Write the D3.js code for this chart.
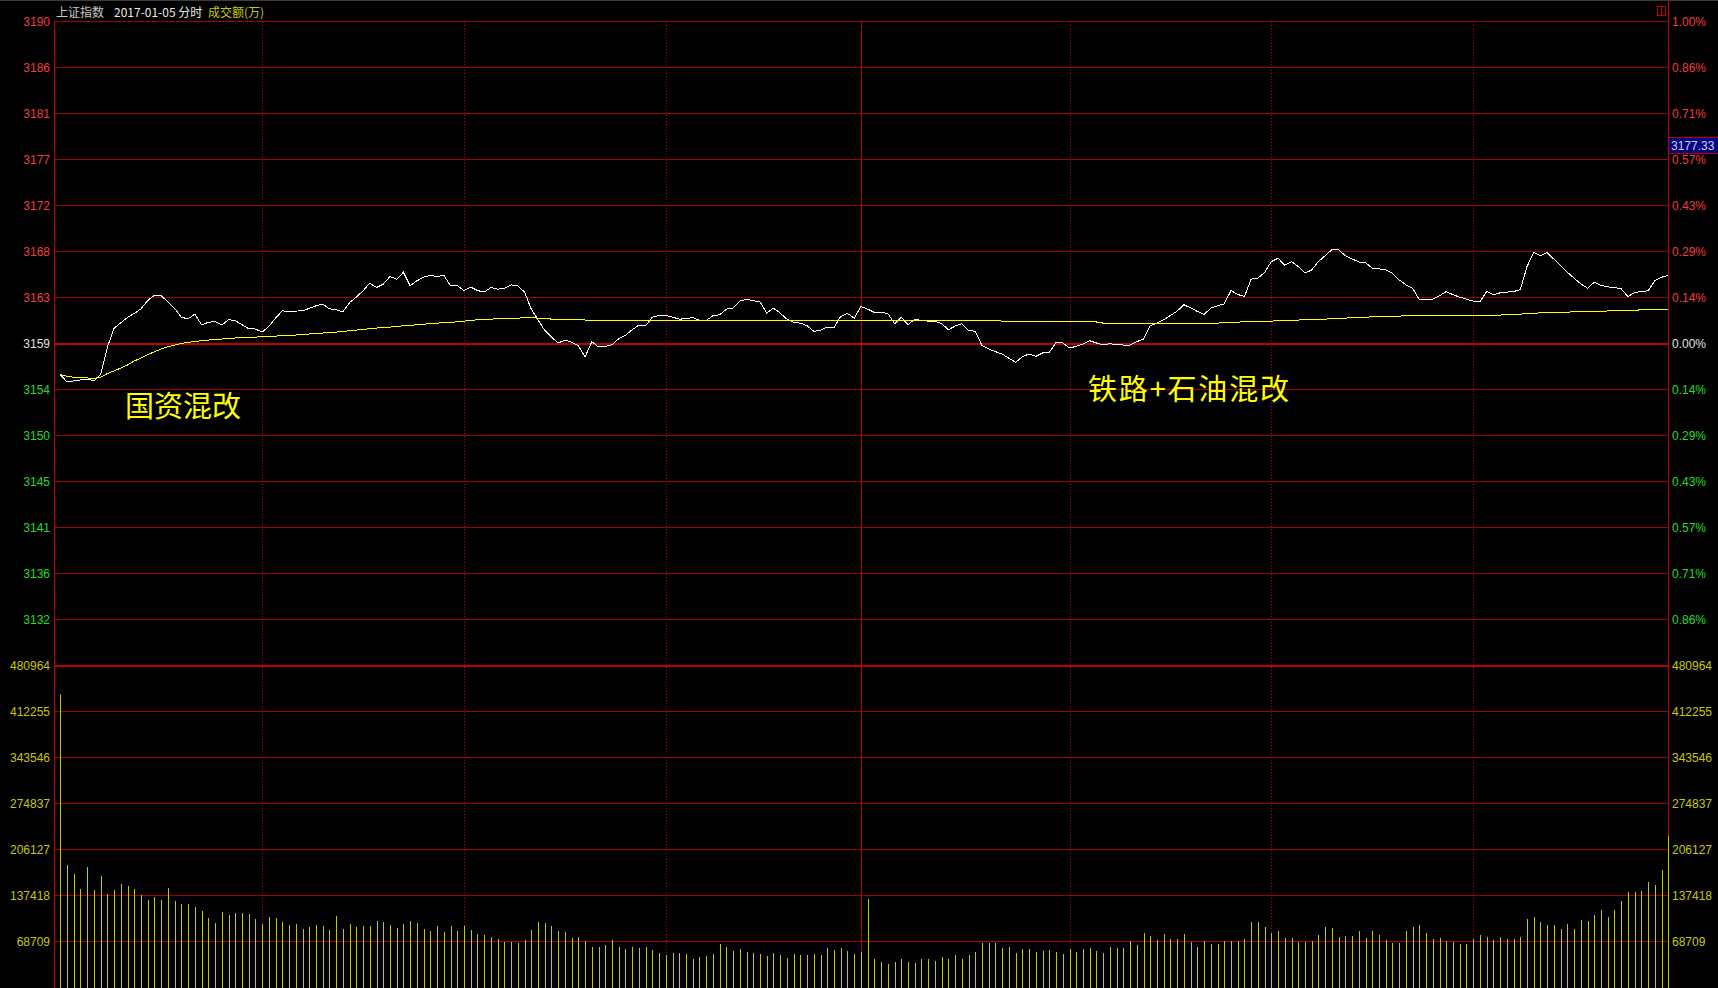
<!DOCTYPE html>
<html>

<head>
    <meta charset="utf-8" />
    <title>上证指数 2017-01-05 分时</title>
    <style>
        html,
        body {
            margin: 0;
            padding: 0;
            background: #000;
            overflow: hidden;
        }

        #chart {
            width: 1718px;
            height: 988px;
        }

        text {
            font-family: "Liberation Sans", Arial, sans-serif;
            font-size: 12px;
        }

        text.cn {
            font-family: "Noto Sans CJK SC", sans-serif;
        }

        .grid line {
            stroke: #a00000;
            stroke-width: 1px;
        }

        .vgrid line {
            stroke: #c00000;
            stroke-width: 1px;
            stroke-dasharray: 1, 2;
        }

        path.series {
            shape-rendering: crispEdges;
        }
    </style>
</head>

<body>
    <div id="chart"></div>

    <script src="https://d3js.org/d3.v7.min.js"></script>
    <script>
        var prevClose = 3158.79
        var markPrice = 3177.33
        var volMax = 480964

        var priceLabels = ["3190", "3186", "3181", "3177", "3172", "3168", "3163", "3159", "3154", "3150", "3145", "3141", "3136", "3132"]
        var pctLabels = ["1.00%", "0.86%", "0.71%", "0.57%", "0.43%", "0.29%", "0.14%", "0.00%", "0.14%", "0.29%", "0.43%", "0.57%", "0.71%", "0.86%"]
        var volLabels = ["480964", "412255", "343546", "274837", "206127", "137418", "68709"]

        // minute index of the half-hour lines and of the midday line
        var halfHours = [30, 60, 90, 150, 180, 210]
        var middayIndex = 119

        var price = [
            3155.72, 3155.00, 3155.10, 3155.20, 3155.29, 3155.10, 3155.72, 3158.42, 3160.28, 3160.81,
            3161.33, 3161.72, 3162.18, 3162.99, 3163.51, 3163.45, 3162.86, 3162.21, 3161.33, 3161.20,
            3161.65, 3160.61, 3160.84, 3160.94, 3160.58, 3161.10, 3161.03, 3160.61, 3160.22, 3160.19,
            3159.89, 3160.45, 3161.26, 3161.98, 3161.88, 3161.95, 3161.98, 3162.21, 3162.47, 3162.63,
            3162.18, 3162.08, 3161.88, 3162.79, 3163.32, 3163.94, 3164.69, 3164.26, 3164.59, 3165.34,
            3165.08, 3165.76, 3164.43, 3164.92, 3165.27, 3165.47, 3165.34, 3165.47, 3164.43, 3164.46,
            3163.97, 3164.30, 3163.97, 3163.81, 3164.26, 3164.10, 3164.16, 3164.52, 3164.43, 3163.81,
            3162.14, 3161.10, 3160.06, 3159.40, 3158.82, 3159.11, 3158.91, 3158.56, 3157.45, 3158.95,
            3158.43, 3158.49, 3158.65, 3159.24, 3159.57, 3160.12, 3160.58, 3160.51, 3161.36, 3161.52,
            3161.52, 3161.36, 3161.16, 3161.20, 3161.33, 3161.03, 3161.03, 3161.49, 3161.59, 3162.14,
            3162.24, 3162.93, 3163.12, 3162.96, 3162.86, 3161.75, 3162.24, 3161.75, 3161.16, 3160.84,
            3160.77, 3160.51, 3159.96, 3160.09, 3160.38, 3160.35, 3161.43, 3161.72, 3161.26, 3162.40,
            3162.14, 3161.82, 3161.82, 3161.72, 3160.71, 3161.33, 3160.61, 3161.16, 3161.03, 3160.97,
            3160.97, 3160.71, 3160.12, 3160.48, 3160.71, 3160.06, 3159.96, 3158.56, 3158.23, 3157.97,
            3157.74, 3157.32, 3156.92, 3157.48, 3157.74, 3157.51, 3157.84, 3157.90, 3158.88, 3158.82,
            3158.33, 3158.49, 3158.72, 3159.04, 3158.82, 3158.65, 3158.75, 3158.65, 3158.62, 3158.62,
            3158.95, 3159.21, 3160.51, 3160.77, 3161.10, 3161.52, 3161.95, 3162.57, 3162.27, 3161.92,
            3161.62, 3162.24, 3162.47, 3162.66, 3163.97, 3163.58, 3163.38, 3165.08, 3165.18, 3165.73,
            3166.81, 3167.13, 3166.45, 3166.81, 3166.32, 3165.67, 3165.99, 3166.81, 3167.39, 3167.98,
            3167.95, 3167.39, 3167.07, 3166.77, 3166.71, 3166.16, 3166.09, 3165.99, 3165.67, 3165.01,
            3164.52, 3164.20, 3163.06, 3163.06, 3163.12, 3163.45, 3163.87, 3163.55, 3163.32, 3163.12,
            3162.93, 3162.89, 3163.87, 3163.55, 3163.74, 3163.81, 3163.87, 3164.04, 3166.32, 3167.69,
            3167.39, 3167.69, 3167.04, 3166.42, 3165.76, 3165.18, 3164.62, 3164.20, 3164.79, 3164.46,
            3164.33, 3164.26, 3164.13, 3163.38, 3163.77, 3163.87, 3163.94, 3164.92, 3165.27, 3165.44
        ]

        var avgPrice = [
            3155.72, 3155.55, 3155.46, 3155.42, 3155.39, 3155.36, 3155.46, 3155.82, 3156.08, 3156.37,
            3156.66, 3157.06, 3157.35, 3157.68, 3157.97, 3158.23, 3158.46, 3158.62, 3158.78, 3158.88,
            3158.98, 3159.04, 3159.11, 3159.17, 3159.21, 3159.27, 3159.31, 3159.34, 3159.37, 3159.40,
            3159.44, 3159.47, 3159.50, 3159.53, 3159.57, 3159.60, 3159.66, 3159.70, 3159.76, 3159.80,
            3159.86, 3159.89, 3159.96, 3160.02, 3160.09, 3160.15, 3160.22, 3160.28, 3160.35, 3160.38,
            3160.45, 3160.51, 3160.54, 3160.61, 3160.67, 3160.71, 3160.77, 3160.81, 3160.84, 3160.90,
            3160.97, 3161.03, 3161.10, 3161.13, 3161.16, 3161.20, 3161.23, 3161.26, 3161.26, 3161.30,
            3161.30, 3161.26, 3161.26, 3161.16, 3161.16, 3161.16, 3161.16, 3161.16, 3161.07, 3161.07,
            3161.07, 3161.07, 3161.07, 3161.00, 3161.00, 3161.00, 3161.00, 3161.00, 3161.00, 3161.00,
            3161.00, 3161.00, 3161.00, 3161.00, 3161.00, 3161.00, 3161.00, 3161.00, 3161.00, 3161.00,
            3161.03, 3161.03, 3161.03, 3161.03, 3161.03, 3161.03, 3161.03, 3161.03, 3161.03, 3161.03,
            3161.03, 3161.03, 3161.03, 3161.03, 3161.03, 3161.03, 3161.03, 3161.03, 3161.03, 3161.03,
            3161.03, 3161.03, 3161.03, 3161.03, 3161.03, 3161.03, 3161.03, 3161.03, 3161.03, 3161.03,
            3161.03, 3161.03, 3161.03, 3161.03, 3161.03, 3161.03, 3161.03, 3161.03, 3161.03, 3161.03,
            3160.97, 3160.97, 3160.97, 3160.97, 3160.97, 3160.88, 3160.88, 3160.88, 3160.88, 3160.88,
            3160.88, 3160.88, 3160.88, 3160.88, 3160.88, 3160.77, 3160.77, 3160.77, 3160.77, 3160.77,
            3160.77, 3160.77, 3160.77, 3160.77, 3160.77, 3160.77, 3160.77, 3160.77, 3160.77, 3160.77,
            3160.77, 3160.77, 3160.77, 3160.81, 3160.87, 3160.87, 3160.90, 3160.90, 3160.94, 3160.94,
            3160.97, 3161.00, 3161.02, 3161.03, 3161.07, 3161.10, 3161.12, 3161.13, 3161.16, 3161.20,
            3161.23, 3161.26, 3161.30, 3161.33, 3161.36, 3161.38, 3161.39, 3161.43, 3161.44, 3161.46,
            3161.49, 3161.49, 3161.49, 3161.49, 3161.49, 3161.49, 3161.49, 3161.49, 3161.49, 3161.49,
            3161.50, 3161.52, 3161.52, 3161.54, 3161.56, 3161.59, 3161.62, 3161.65, 3161.72, 3161.75,
            3161.77, 3161.78, 3161.82, 3161.83, 3161.85, 3161.87, 3161.88, 3161.92, 3161.93, 3161.95,
            3161.96, 3161.98, 3161.99, 3162.01, 3162.05, 3162.06, 3162.08, 3162.11, 3162.13, 3162.14
        ]

        var volume = [
            437650, 182700, 169200, 146800, 179700, 145300, 166200, 139400, 145300, 154300,
            151300, 146800, 137900, 130400, 134900, 130400, 148300, 128900, 124400, 124400,
            119900, 114000, 103500, 96000, 112500, 108000, 111000, 111000, 109500, 102000,
            94500, 105000, 103500, 97500, 93000, 94500, 87100, 90100, 93000, 91600,
            85600, 106500, 87100, 94500, 90100, 91600, 91600, 99000, 97500, 93000,
            88600, 94500, 99000, 96000, 87100, 84100, 91600, 82600, 91600, 84100,
            91600, 85600, 79600, 78100, 75100, 72100, 67700, 67700, 66200, 70700,
            85600, 97500, 96000, 91600, 84100, 82600, 73600, 75100, 69200, 60200,
            60200, 63200, 70700, 60200, 57200, 60200, 58700, 60200, 55700, 51200,
            48200, 51200, 51200, 49700, 42300, 45300, 46800, 49700, 64700, 60200,
            54200, 57200, 52700, 51200, 49700, 46800, 51200, 48200, 43800, 49700,
            48200, 48200, 49700, 48200, 58700, 55700, 58700, 54200, 49700, 52700,
            131900, 42300, 37800, 34800, 37800, 42300, 37800, 36300, 42300, 42300,
            39300, 45300, 42300, 48200, 42300, 48200, 52700, 66200, 66200, 66200,
            58700, 60200, 51200, 57200, 57200, 52700, 54200, 55700, 52700, 49700,
            57200, 52700, 57200, 58700, 54200, 51200, 60200, 58700, 58700, 69200,
            63200, 81100, 76600, 70700, 79600, 72100, 72100, 79600, 67700, 60200,
            69200, 64700, 64700, 69200, 69200, 69200, 72100, 97500, 97500, 90100,
            81100, 84100, 73600, 73600, 67700, 67700, 69200, 78100, 90100, 88600,
            75100, 76600, 76600, 84100, 73600, 84100, 78100, 70700, 66200, 66200,
            84100, 90100, 93000, 81100, 72100, 73600, 69200, 67700, 64700, 64700,
            72100, 78100, 75100, 70700, 75100, 72100, 72100, 75100, 102000, 105000,
            97500, 93000, 93000, 87100, 94500, 87100, 100500, 99000, 108000, 115500,
            105000, 115500, 128900, 142300, 142300, 143800, 157300, 152800, 175200, 226000
        ]

        !(function() {
            "use strict"
            var width = 1718,
                height = 988
            var left = 54,
                right = 1668
            var red = "#f03c3c",
                green = "#22dd22",
                yellowTxt = "#c8c800"

            var svg = d3.select("#chart").append("svg")
                .attr("width", width)
                .attr("height", height)

            svg.append("rect")
                .attr("width", width)
                .attr("height", height)
                .attr("fill", "#000")

            var x = d3.scaleLinear()
                .domain([0, volume.length - 1])
                .range([60.3, 1668.3])

            var yP = d3.scaleLinear()
                .domain([prevClose * 0.99, prevClose * 1.01])
                .range([665.3, 21.3])

            var yV = d3.scaleLinear()
                .domain([0, volMax])
                .range([987.3, 665.3])

            function crisp(v) {
                return Math.floor(v) + 0.5
            }

            // horizontal grid, price panel
            var priceLevels = priceLabels.map(function(d, j) {
                return prevClose * (1 + (7 - j) / 700)
            })
            var volLevels = volLabels.map(function(d, j) {
                return volMax * (7 - j) / 7
            })

            svg.append("g").attr("class", "grid")
                .selectAll("line")
                .data(priceLevels.filter(function(d, j) {
                    return j != 7
                }))
                .enter().append("line")
                .attr("x1", left).attr("x2", right)
                .attr("y1", function(d) { return crisp(yP(d)) })
                .attr("y2", function(d) { return crisp(yP(d)) })

            svg.append("g").attr("class", "grid")
                .selectAll("line")
                .data(volLevels.slice(1))
                .enter().append("line")
                .attr("x1", left).attr("x2", right)
                .attr("y1", function(d) { return crisp(yV(d)) })
                .attr("y2", function(d) { return crisp(yV(d)) })

            // vertical half-hour lines
            svg.append("g").attr("class", "vgrid")
                .selectAll("line")
                .data(halfHours)
                .enter().append("line")
                .attr("x1", function(d) { return Math.round(x(d)) + 0.5 })
                .attr("x2", function(d) { return Math.round(x(d)) + 0.5 })
                .attr("y1", 22).attr("y2", height)

            svg.append("line")
                .attr("x1", Math.round(x(middayIndex)) + 0.5)
                .attr("x2", Math.round(x(middayIndex)) + 0.5)
                .attr("y1", 21).attr("y2", height)
                .attr("stroke", "#c00000")

            // zero line and the price / volume divider
            svg.append("line")
                .attr("x1", left).attr("x2", right)
                .attr("y1", Math.floor(yP(prevClose)) + 1)
                .attr("y2", Math.floor(yP(prevClose)) + 1)
                .attr("stroke", "#c00000").attr("stroke-width", 2)

            svg.append("line")
                .attr("x1", left).attr("x2", right)
                .attr("y1", Math.floor(yV(volMax)) + 1)
                .attr("y2", Math.floor(yV(volMax)) + 1)
                .attr("stroke", "#c00000").attr("stroke-width", 2)

            // frame
            svg.append("line")
                .attr("x1", 0).attr("x2", width)
                .attr("y1", 0.5).attr("y2", 0.5)
                .attr("stroke", "#3c3c3c")
            svg.append("line")
                .attr("x1", left + 0.5).attr("x2", left + 0.5)
                .attr("y1", 21).attr("y2", height)
                .attr("stroke", "#c00000")
            svg.append("line")
                .attr("x1", right + 0.5).attr("x2", right + 0.5)
                .attr("y1", 0).attr("y2", height)
                .attr("stroke", "#c00000")

            // volume bars
            svg.append("g")
                .selectAll("line")
                .data(volume)
                .enter().append("line")
                .attr("x1", function(d, i) { return Math.round(x(i)) + 0.5 })
                .attr("x2", function(d, i) { return Math.round(x(i)) + 0.5 })
                .attr("y1", height)
                .attr("y2", function(d) { return yV(d) })
                .attr("stroke", "#c8c800")
                .attr("stroke-width", 1)

            // price and average lines
            var line = d3.line()
                .x(function(d, i) { return x(i) })
                .y(function(d) { return yP(d) })

            svg.append("path")
                .datum(price)
                .attr("class", "series")
                .attr("d", line)
                .attr("fill", "none")
                .attr("stroke", "#ffffff")
                .attr("stroke-width", 1)

            svg.append("path")
                .datum(avgPrice)
                .attr("class", "series")
                .attr("d", line)
                .attr("fill", "none")
                .attr("stroke", "#ffff00")
                .attr("stroke-width", 1)

            // left labels
            svg.append("g")
                .selectAll("text")
                .data(priceLabels)
                .enter().append("text")
                .attr("x", 50)
                .attr("y", function(d, j) { return yP(priceLevels[j]) + 0.5 })
                .attr("text-anchor", "end")
                .attr("dominant-baseline", "central")
                .attr("fill", function(d, j) { return j < 7 ? red : (j == 7 ? "#e0e0e0" : green) })
                .text(function(d) { return d })

            svg.append("g")
                .selectAll("text")
                .data(volLabels)
                .enter().append("text")
                .attr("x", 50)
                .attr("y", function(d, j) { return yV(volLevels[j]) + 0.5 })
                .attr("text-anchor", "end")
                .attr("dominant-baseline", "central")
                .attr("fill", yellowTxt)
                .text(function(d) { return d })

            // right labels
            svg.append("g")
                .selectAll("text")
                .data(pctLabels)
                .enter().append("text")
                .attr("x", 1672)
                .attr("y", function(d, j) { return yP(priceLevels[j]) + 0.5 })
                .attr("dominant-baseline", "central")
                .attr("fill", function(d, j) { return j < 7 ? red : (j == 7 ? "#e0e0e0" : green) })
                .text(function(d) { return d })

            svg.append("g")
                .selectAll("text")
                .data(volLabels)
                .enter().append("text")
                .attr("x", 1672)
                .attr("y", function(d, j) { return yV(volLevels[j]) + 0.5 })
                .attr("dominant-baseline", "central")
                .attr("fill", yellowTxt)
                .text(function(d) { return d })

            // marker box on the right axis
            var my = yP(markPrice)
            svg.append("rect")
                .attr("x", 1668.5).attr("y", Math.round(my) - 16.5)
                .attr("width", 52).attr("height", 16)
                .attr("fill", "#000080")
                .attr("stroke", "#c00000")
            svg.append("text")
                .attr("x", 1671).attr("y", my - 8)
                .attr("dominant-baseline", "central")
                .attr("fill", "#d0d0f0")
                .text(markPrice.toFixed(2))

            // little icon top right
            svg.append("rect")
                .attr("x", 1657.5).attr("y", 6.5)
                .attr("width", 8).attr("height", 9)
                .attr("fill", "none").attr("stroke", "#c00000")
            svg.append("line")
                .attr("x1", 1661.5).attr("x2", 1661.5)
                .attr("y1", 6.5).attr("y2", 15.5)
                .attr("stroke", "#c00000")

            // title
            var title = svg.append("g")
            title.append("text").attr("class", "cn")
                .attr("x", 56).attr("y", 11).attr("dominant-baseline", "central")
                .attr("fill", "#c8c8c8").text("上证指数")
            title.append("text").attr("class", "cn")
                .attr("x", 114).attr("y", 11).attr("dominant-baseline", "central")
                .attr("fill", "#e8e8e8").text("2017-01-05 分时")
            title.append("text").attr("class", "cn")
                .attr("x", 208).attr("y", 11).attr("dominant-baseline", "central")
                .attr("fill", yellowTxt).text("成交额(万)")

            // annotations
            svg.append("text").attr("class", "cn")
                .attr("x", 125).attr("y", 417)
                .attr("textLength", 116)
                .attr("lengthAdjust", "spacing")
                .style("font-size", "29px")
                .attr("fill", "#ffff00")
                .text("国资混改")

            svg.append("text").attr("class", "cn")
                .attr("x", 1088).attr("y", 400)
                .attr("textLength", 201)
                .attr("lengthAdjust", "spacing")
                .style("font-size", "29px")
                .attr("fill", "#ffff00")
                .text("铁路+石油混改")
        }());
    </script>
</body>

</html>
